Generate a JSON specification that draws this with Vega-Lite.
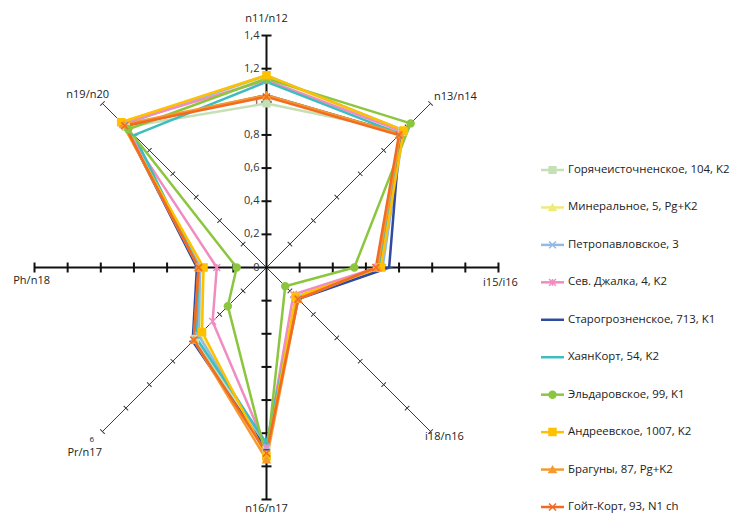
{
  "$schema": "https://vega.github.io/schema/vega-lite/v6.json",
  "width": 741,
  "height": 517,
  "autosize": "none",
  "padding": 0,
  "background": "white",
  "config": {"view": {"stroke": null}, "font": "Open Sans"},
  "resolve": {"scale": {"y": "independent"}},
  "datasets": {
    "series": [
      {"series": "Горячеисточненское, 104, K2", "k": 0, "value": 0.99},
      {"series": "Горячеисточненское, 104, K2", "k": 1, "value": 1.16},
      {"series": "Горячеисточненское, 104, K2", "k": 2, "value": 0.67},
      {"series": "Горячеисточненское, 104, K2", "k": 3, "value": 0.26},
      {"series": "Горячеисточненское, 104, K2", "k": 4, "value": 1.10},
      {"series": "Горячеисточненское, 104, K2", "k": 5, "value": 0.61},
      {"series": "Горячеисточненское, 104, K2", "k": 6, "value": 0.40},
      {"series": "Горячеисточненское, 104, K2", "k": 7, "value": 1.20},
      {"series": "Минеральное, 5, Pg+K2", "k": 0, "value": 1.15},
      {"series": "Минеральное, 5, Pg+K2", "k": 1, "value": 1.17},
      {"series": "Минеральное, 5, Pg+K2", "k": 2, "value": 0.69},
      {"series": "Минеральное, 5, Pg+K2", "k": 3, "value": 0.25},
      {"series": "Минеральное, 5, Pg+K2", "k": 4, "value": 1.12},
      {"series": "Минеральное, 5, Pg+K2", "k": 5, "value": 0.57},
      {"series": "Минеральное, 5, Pg+K2", "k": 6, "value": 0.38},
      {"series": "Минеральное, 5, Pg+K2", "k": 7, "value": 1.24},
      {"series": "Петропавловское, 3", "k": 0, "value": 1.16},
      {"series": "Петропавловское, 3", "k": 1, "value": 1.17},
      {"series": "Петропавловское, 3", "k": 2, "value": 0.70},
      {"series": "Петропавловское, 3", "k": 3, "value": 0.26},
      {"series": "Петропавловское, 3", "k": 4, "value": 1.08},
      {"series": "Петропавловское, 3", "k": 5, "value": 0.58},
      {"series": "Петропавловское, 3", "k": 6, "value": 0.40},
      {"series": "Петропавловское, 3", "k": 7, "value": 1.22},
      {"series": "Сев. Джалка, 4, K2", "k": 0, "value": 1.13},
      {"series": "Сев. Джалка, 4, K2", "k": 1, "value": 1.16},
      {"series": "Сев. Джалка, 4, K2", "k": 2, "value": 0.67},
      {"series": "Сев. Джалка, 4, K2", "k": 3, "value": 0.23},
      {"series": "Сев. Джалка, 4, K2", "k": 4, "value": 1.09},
      {"series": "Сев. Джалка, 4, K2", "k": 5, "value": 0.46},
      {"series": "Сев. Джалка, 4, K2", "k": 6, "value": 0.30},
      {"series": "Сев. Джалка, 4, K2", "k": 7, "value": 1.23},
      {"series": "Старогрозненское, 713, K1", "k": 0, "value": 1.04},
      {"series": "Старогрозненское, 713, K1", "k": 1, "value": 1.14},
      {"series": "Старогрозненское, 713, K1", "k": 2, "value": 0.74},
      {"series": "Старогрозненское, 713, K1", "k": 3, "value": 0.27},
      {"series": "Старогрозненское, 713, K1", "k": 4, "value": 1.10},
      {"series": "Старогрозненское, 713, K1", "k": 5, "value": 0.63},
      {"series": "Старогрозненское, 713, K1", "k": 6, "value": 0.42},
      {"series": "Старогрозненское, 713, K1", "k": 7, "value": 1.21},
      {"series": "ХаянКорт, 54, K2", "k": 0, "value": 1.12},
      {"series": "ХаянКорт, 54, K2", "k": 1, "value": 1.14},
      {"series": "ХаянКорт, 54, K2", "k": 2, "value": 0.68},
      {"series": "ХаянКорт, 54, K2", "k": 3, "value": 0.26},
      {"series": "ХаянКорт, 54, K2", "k": 4, "value": 1.06},
      {"series": "ХаянКорт, 54, K2", "k": 5, "value": 0.60},
      {"series": "ХаянКорт, 54, K2", "k": 6, "value": 0.41},
      {"series": "ХаянКорт, 54, K2", "k": 7, "value": 1.13},
      {"series": "Эльдаровское, 99, K1", "k": 0, "value": 1.14},
      {"series": "Эльдаровское, 99, K1", "k": 1, "value": 1.23},
      {"series": "Эльдаровское, 99, K1", "k": 2, "value": 0.53},
      {"series": "Эльдаровское, 99, K1", "k": 3, "value": 0.16},
      {"series": "Эльдаровское, 99, K1", "k": 4, "value": 1.15},
      {"series": "Эльдаровское, 99, K1", "k": 5, "value": 0.33},
      {"series": "Эльдаровское, 99, K1", "k": 6, "value": 0.18},
      {"series": "Эльдаровское, 99, K1", "k": 7, "value": 1.18},
      {"series": "Андреевское, 1007, K2", "k": 0, "value": 1.16},
      {"series": "Андреевское, 1007, K2", "k": 1, "value": 1.17},
      {"series": "Андреевское, 1007, K2", "k": 2, "value": 0.69},
      {"series": "Андреевское, 1007, K2", "k": 3, "value": 0.25},
      {"series": "Андреевское, 1007, K2", "k": 4, "value": 1.14},
      {"series": "Андреевское, 1007, K2", "k": 5, "value": 0.55},
      {"series": "Андреевское, 1007, K2", "k": 6, "value": 0.38},
      {"series": "Андреевское, 1007, K2", "k": 7, "value": 1.24},
      {"series": "Брагуны, 87, Pg+K2", "k": 0, "value": 1.04},
      {"series": "Брагуны, 87, Pg+K2", "k": 1, "value": 1.14},
      {"series": "Брагуны, 87, Pg+K2", "k": 2, "value": 0.67},
      {"series": "Брагуны, 87, Pg+K2", "k": 3, "value": 0.27},
      {"series": "Брагуны, 87, Pg+K2", "k": 4, "value": 1.16},
      {"series": "Брагуны, 87, Pg+K2", "k": 5, "value": 0.62},
      {"series": "Брагуны, 87, Pg+K2", "k": 6, "value": 0.41},
      {"series": "Брагуны, 87, Pg+K2", "k": 7, "value": 1.22},
      {"series": "Гойт-Корт, 93, N1 ch", "k": 0, "value": 1.03},
      {"series": "Гойт-Корт, 93, N1 ch", "k": 1, "value": 1.13},
      {"series": "Гойт-Корт, 93, N1 ch", "k": 2, "value": 0.66},
      {"series": "Гойт-Корт, 93, N1 ch", "k": 3, "value": 0.27},
      {"series": "Гойт-Корт, 93, N1 ch", "k": 4, "value": 1.12},
      {"series": "Гойт-Корт, 93, N1 ch", "k": 5, "value": 0.62},
      {"series": "Гойт-Корт, 93, N1 ch", "k": 6, "value": 0.41},
      {"series": "Гойт-Корт, 93, N1 ch", "k": 7, "value": 1.21}
    ],
    "axes": [
      {"k": 0, "levels": [0.2, 0.4, 0.6, 0.8, 1, 1.2, 1.4]},
      {"k": 1, "levels": [0.2, 0.4, 0.6, 0.8, 1, 1.2, 1.4]},
      {"k": 2, "levels": [0.2, 0.4, 0.6, 0.8, 1, 1.2, 1.4]},
      {"k": 3, "levels": [0.2, 0.4, 0.6, 0.8, 1, 1.2, 1.4]},
      {"k": 4, "levels": [0.2, 0.4, 0.6, 0.8, 1, 1.2, 1.4]},
      {"k": 5, "levels": [0.2, 0.4, 0.6, 0.8, 1, 1.2, 1.4]},
      {"k": 6, "levels": [0.2, 0.4, 0.6, 0.8, 1, 1.2, 1.4]},
      {"k": 7, "levels": [0.2, 0.4, 0.6, 0.8, 1, 1.2, 1.4]}
    ],
    "vlabels": [
      {"v": 0, "lab": "0"},
      {"v": 0.2, "lab": "0,2"},
      {"v": 0.4, "lab": "0,4"},
      {"v": 0.6, "lab": "0,6"},
      {"v": 0.8, "lab": "0,8"},
      {"v": 1, "lab": "1"},
      {"v": 1.2, "lab": "1,2"},
      {"v": 1.4, "lab": "1,4"}
    ]
  },
  "layer": [
    {
      "data": {"name": "axes"},
      "transform": [
        {"filter": "datum.k % 2 == 1"},
        {"calculate": "0", "as": "o"},
        {"calculate": "1.4 * sin(datum.k * PI / 4)", "as": "ex"},
        {"calculate": "1.4 * cos(datum.k * PI / 4)", "as": "ey"}
      ],
      "mark": {"type": "rule", "color": "#3a3a3a", "strokeWidth": 1},
      "encoding": {
        "x": {"field": "o", "type": "quantitative", "scale": {"domain": [-1.6083, 2.8636], "nice": false, "zero": false}, "axis": null},
        "y": {"field": "o", "type": "quantitative", "scale": {"domain": [-1.5057, 1.6144], "nice": false, "zero": false}, "axis": null},
        "x2": {"field": "ex"},
        "y2": {"field": "ey"}
      }
    },
    {
      "data": {"name": "axes"},
      "transform": [
        {"filter": "datum.k % 2 == 0"},
        {"calculate": "0", "as": "o"},
        {"calculate": "1.4 * sin(datum.k * PI / 4)", "as": "ex"},
        {"calculate": "1.4 * cos(datum.k * PI / 4)", "as": "ey"}
      ],
      "mark": {"type": "rule", "color": "#111111", "strokeWidth": 2},
      "encoding": {
        "x": {"field": "o", "type": "quantitative", "scale": {"domain": [-1.6083, 2.8636], "nice": false, "zero": false}, "axis": null},
        "y": {"field": "o", "type": "quantitative", "scale": {"domain": [-1.5057, 1.6144], "nice": false, "zero": false}, "axis": null},
        "x2": {"field": "ex"},
        "y2": {"field": "ey"}
      }
    },
    {
      "data": {"name": "axes"},
      "transform": [
        {"filter": "datum.k % 2 == 1"},
        {"flatten": ["levels"], "as": ["level"]},
        {"calculate": "datum.level * sin(datum.k * PI / 4)", "as": "tx"},
        {"calculate": "datum.level * cos(datum.k * PI / 4)", "as": "ty"},
        {"calculate": "datum.k * 45", "as": "ang"}
      ],
      "mark": {"type": "point", "shape": "M-1,0L1,0", "color": "#3a3a3a", "strokeWidth": 1, "size": 40, "opacity": 1},
      "encoding": {
        "x": {"field": "tx", "type": "quantitative", "scale": {"domain": [-1.6083, 2.8636], "nice": false, "zero": false}, "axis": null},
        "y": {"field": "ty", "type": "quantitative", "scale": {"domain": [-1.5057, 1.6144], "nice": false, "zero": false}, "axis": null},
        "angle": {"field": "ang", "type": "quantitative", "scale": null}
      }
    },
    {
      "data": {"name": "axes"},
      "transform": [
        {"filter": "datum.k % 2 == 0"},
        {"flatten": ["levels"], "as": ["level"]},
        {"calculate": "datum.level * sin(datum.k * PI / 4)", "as": "tx"},
        {"calculate": "datum.level * cos(datum.k * PI / 4)", "as": "ty"},
        {"calculate": "datum.k * 45", "as": "ang"}
      ],
      "mark": {"type": "point", "shape": "M-1,0L1,0", "color": "#111111", "strokeWidth": 2, "size": 100, "opacity": 1},
      "encoding": {
        "x": {"field": "tx", "type": "quantitative", "scale": {"domain": [-1.6083, 2.8636], "nice": false, "zero": false}, "axis": null},
        "y": {"field": "ty", "type": "quantitative", "scale": {"domain": [-1.5057, 1.6144], "nice": false, "zero": false}, "axis": null},
        "angle": {"field": "ang", "type": "quantitative", "scale": null}
      }
    },
    {
      "data": {"name": "vlabels"},
      "mark": {"type": "text", "align": "right", "baseline": "middle", "dx": -7, "fontSize": 11, "color": "#333333"},
      "encoding": {
        "x": {"datum": 0, "type": "quantitative", "scale": {"domain": [-1.6083, 2.8636], "nice": false, "zero": false}, "axis": null},
        "y": {"field": "v", "type": "quantitative", "scale": {"domain": [-1.5057, 1.6144], "nice": false, "zero": false}, "axis": null},
        "text": {"field": "lab"}
      }
    },
    {
      "data": {"name": "series"},
      "transform": [
        {"calculate": "datum.value * sin(datum.k * PI / 4)", "as": "px"},
        {"calculate": "datum.value * cos(datum.k * PI / 4)", "as": "py"}
      ],
      "mark": {"type": "line", "interpolate": "linear-closed", "strokeWidth": 2.5, "strokeJoin": "round"},
      "encoding": {
        "x": {"field": "px", "type": "quantitative", "scale": {"domain": [-1.6083, 2.8636], "nice": false, "zero": false}, "axis": null},
        "y": {"field": "py", "type": "quantitative", "scale": {"domain": [-1.5057, 1.6144], "nice": false, "zero": false}, "axis": null},
        "order": {"field": "k", "type": "quantitative"},
        "color": {"field": "series", "type": "nominal", "legend": null,
          "scale": {
            "domain": ["Горячеисточненское, 104, K2", "Минеральное, 5, Pg+K2", "Петропавловское, 3", "Сев. Джалка, 4, K2", "Старогрозненское, 713, K1", "ХаянКорт, 54, K2", "Эльдаровское, 99, K1", "Андреевское, 1007, K2", "Брагуны, 87, Pg+K2", "Гойт-Корт, 93, N1 ch"],
            "range": ["#C5E0B4", "#F0EA78", "#8FBCE6", "#F08CC0", "#2F4A9E", "#3DBDBF", "#8CC63E", "#FFC000", "#F79A2E", "#F26B22"]
          }
        }
      }
    },
    {
      "data": {"name": "series"},
      "transform": [
        {"calculate": "datum.value * sin(datum.k * PI / 4)", "as": "px"},
        {"calculate": "datum.value * cos(datum.k * PI / 4)", "as": "py"}
      ],
      "mark": {"type": "point", "filled": true, "opacity": 1, "strokeWidth": 1.5},
      "encoding": {
        "x": {"field": "px", "type": "quantitative", "scale": {"domain": [-1.6083, 2.8636], "nice": false, "zero": false}, "axis": null},
        "y": {"field": "py", "type": "quantitative", "scale": {"domain": [-1.5057, 1.6144], "nice": false, "zero": false}, "axis": null},
        "color": {"field": "series", "type": "nominal", "legend": null,
          "scale": {
            "domain": ["Горячеисточненское, 104, K2", "Минеральное, 5, Pg+K2", "Петропавловское, 3", "Сев. Джалка, 4, K2", "Старогрозненское, 713, K1", "ХаянКорт, 54, K2", "Эльдаровское, 99, K1", "Андреевское, 1007, K2", "Брагуны, 87, Pg+K2", "Гойт-Корт, 93, N1 ch"],
            "range": ["#C5E0B4", "#F0EA78", "#8FBCE6", "#F08CC0", "#2F4A9E", "#3DBDBF", "#8CC63E", "#FFC000", "#F79A2E", "#F26B22"]
          }
        },
        "stroke": {"field": "series", "type": "nominal", "legend": null,
          "scale": {
            "domain": ["Горячеисточненское, 104, K2", "Минеральное, 5, Pg+K2", "Петропавловское, 3", "Сев. Джалка, 4, K2", "Старогрозненское, 713, K1", "ХаянКорт, 54, K2", "Эльдаровское, 99, K1", "Андреевское, 1007, K2", "Брагуны, 87, Pg+K2", "Гойт-Корт, 93, N1 ch"],
            "range": ["#C5E0B4", "#F0EA78", "#8FBCE6", "#F08CC0", "#2F4A9E", "#3DBDBF", "#8CC63E", "#FFC000", "#F79A2E", "#F26B22"]
          }
        },
        "shape": {"field": "series", "type": "nominal", "legend": null,
          "scale": {
            "domain": ["Горячеисточненское, 104, K2", "Минеральное, 5, Pg+K2", "Петропавловское, 3", "Сев. Джалка, 4, K2", "Старогрозненское, 713, K1", "ХаянКорт, 54, K2", "Эльдаровское, 99, K1", "Андреевское, 1007, K2", "Брагуны, 87, Pg+K2", "Гойт-Корт, 93, N1 ch"],
            "range": ["square", "triangle-up", "M-1,-1L1,1M-1,1L1,-1", "M-1,-1L1,1M-1,1L1,-1M0,-1L0,1", "M-1,0L1,0", "M-1,0L1,0", "circle", "square", "triangle-up", "M-1,-1L1,1M-1,1L1,-1"]
          }
        },
        "size": {"field": "series", "type": "nominal", "legend": null,
          "scale": {
            "domain": ["Горячеисточненское, 104, K2", "Минеральное, 5, Pg+K2", "Петропавловское, 3", "Сев. Джалка, 4, K2", "Старогрозненское, 713, K1", "ХаянКорт, 54, K2", "Эльдаровское, 99, K1", "Андреевское, 1007, K2", "Брагуны, 87, Pg+K2", "Гойт-Корт, 93, N1 ch"],
            "range": [45, 50, 40, 40, 30, 30, 45, 85, 65, 45]
          }
        }
      }
    },
    {
      "data": {"values": [{"t": "n11/n12"}]},
      "mark": {"type": "text", "align": "center", "baseline": "middle", "fontSize": 11, "color": "#222222"},
      "encoding": {
        "x": {"datum": 0, "type": "quantitative", "scale": {"domain": [-1.6083, 2.8636], "nice": false, "zero": false}, "axis": null},
        "y": {"datum": 1.5, "type": "quantitative", "scale": {"domain": [-1.5057, 1.6144], "nice": false, "zero": false}, "axis": null},
        "text": {"field": "t"}
      }
    },
    {
      "data": {"values": [{"t": "n13/n14"}]},
      "mark": {"type": "text", "align": "left", "baseline": "middle", "fontSize": 11, "color": "#222222"},
      "encoding": {
        "x": {"datum": 1.011, "type": "quantitative", "scale": {"domain": [-1.6083, 2.8636], "nice": false, "zero": false}, "axis": null},
        "y": {"datum": 1.029, "type": "quantitative", "scale": {"domain": [-1.5057, 1.6144], "nice": false, "zero": false}, "axis": null},
        "text": {"field": "t"}
      }
    },
    {
      "data": {"values": [{"t": "i15/i16"}]},
      "mark": {"type": "text", "align": "left", "baseline": "middle", "fontSize": 11, "color": "#222222"},
      "encoding": {
        "x": {"datum": 1.307, "type": "quantitative", "scale": {"domain": [-1.6083, 2.8636], "nice": false, "zero": false}, "axis": null},
        "y": {"datum": -0.094, "type": "quantitative", "scale": {"domain": [-1.5057, 1.6144], "nice": false, "zero": false}, "axis": null},
        "text": {"field": "t"}
      }
    },
    {
      "data": {"values": [{"t": "i18/n16"}]},
      "mark": {"type": "text", "align": "left", "baseline": "middle", "fontSize": 11, "color": "#222222"},
      "encoding": {
        "x": {"datum": 0.957, "type": "quantitative", "scale": {"domain": [-1.6083, 2.8636], "nice": false, "zero": false}, "axis": null},
        "y": {"datum": -1.023, "type": "quantitative", "scale": {"domain": [-1.5057, 1.6144], "nice": false, "zero": false}, "axis": null},
        "text": {"field": "t"}
      }
    },
    {
      "data": {"values": [{"t": "n16/n17"}]},
      "mark": {"type": "text", "align": "center", "baseline": "middle", "fontSize": 11, "color": "#222222"},
      "encoding": {
        "x": {"datum": 0, "type": "quantitative", "scale": {"domain": [-1.6083, 2.8636], "nice": false, "zero": false}, "axis": null},
        "y": {"datum": -1.458, "type": "quantitative", "scale": {"domain": [-1.5057, 1.6144], "nice": false, "zero": false}, "axis": null},
        "text": {"field": "t"}
      }
    },
    {
      "data": {"values": [{"t": "Pr/n17"}]},
      "mark": {"type": "text", "align": "right", "baseline": "middle", "fontSize": 11, "color": "#222222"},
      "encoding": {
        "x": {"datum": -0.993, "type": "quantitative", "scale": {"domain": [-1.6083, 2.8636], "nice": false, "zero": false}, "axis": null},
        "y": {"datum": -1.118, "type": "quantitative", "scale": {"domain": [-1.5057, 1.6144], "nice": false, "zero": false}, "axis": null},
        "text": {"field": "t"}
      }
    },
    {
      "data": {"values": [{"t": "6"}]},
      "mark": {"type": "text", "align": "center", "baseline": "middle", "fontSize": 8, "color": "#222222"},
      "encoding": {
        "x": {"datum": -1.055, "type": "quantitative", "scale": {"domain": [-1.6083, 2.8636], "nice": false, "zero": false}, "axis": null},
        "y": {"datum": -1.041, "type": "quantitative", "scale": {"domain": [-1.5057, 1.6144], "nice": false, "zero": false}, "axis": null},
        "text": {"field": "t"}
      }
    },
    {
      "data": {"values": [{"t": "Ph/n18"}]},
      "mark": {"type": "text", "align": "right", "baseline": "middle", "fontSize": 11, "color": "#222222"},
      "encoding": {
        "x": {"datum": -1.3066, "type": "quantitative", "scale": {"domain": [-1.6083, 2.8636], "nice": false, "zero": false}, "axis": null},
        "y": {"datum": -0.0815, "type": "quantitative", "scale": {"domain": [-1.5057, 1.6144], "nice": false, "zero": false}, "axis": null},
        "text": {"field": "t"}
      }
    },
    {
      "data": {"values": [{"t": "n19/n20"}]},
      "mark": {"type": "text", "align": "right", "baseline": "middle", "fontSize": 11, "color": "#222222"},
      "encoding": {
        "x": {"datum": -0.9505, "type": "quantitative", "scale": {"domain": [-1.6083, 2.8636], "nice": false, "zero": false}, "axis": null},
        "y": {"datum": 1.041, "type": "quantitative", "scale": {"domain": [-1.5057, 1.6144], "nice": false, "zero": false}, "axis": null},
        "text": {"field": "t"}
      }
    },
    {
      "data": {"name": "series"},
      "transform": [{"filter": "datum.k == 0"}],
      "mark": {"type": "point", "shape": "M-1,0L1,0", "size": 529, "strokeWidth": 2.5, "opacity": 1},
      "encoding": {
        "x": {"datum": 1.726, "type": "quantitative", "scale": {"domain": [-1.6083, 2.8636], "nice": false, "zero": false}, "axis": null},
        "y": {"field": "series", "type": "nominal", "sort": null, "axis": null,
          "scale": {"type": "point", "padding": 0, "domain": ["Горячеисточненское, 104, K2", "Минеральное, 5, Pg+K2", "Петропавловское, 3", "Сев. Джалка, 4, K2", "Старогрозненское, 713, K1", "ХаянКорт, 54, K2", "Эльдаровское, 99, K1", "Андреевское, 1007, K2", "Брагуны, 87, Pg+K2", "Гойт-Корт, 93, N1 ch"], "range": [170, 507]}
        },
        "color": {"field": "series", "type": "nominal", "legend": null,
          "scale": {
            "domain": ["Горячеисточненское, 104, K2", "Минеральное, 5, Pg+K2", "Петропавловское, 3", "Сев. Джалка, 4, K2", "Старогрозненское, 713, K1", "ХаянКорт, 54, K2", "Эльдаровское, 99, K1", "Андреевское, 1007, K2", "Брагуны, 87, Pg+K2", "Гойт-Корт, 93, N1 ch"],
            "range": ["#C5E0B4", "#F0EA78", "#8FBCE6", "#F08CC0", "#2F4A9E", "#3DBDBF", "#8CC63E", "#FFC000", "#F79A2E", "#F26B22"]
          }
        }
      }
    },
    {
      "data": {"name": "series"},
      "transform": [{"filter": "datum.k == 0"}],
      "mark": {"type": "point", "filled": true, "opacity": 1, "strokeWidth": 1.5},
      "encoding": {
        "x": {"datum": 1.726, "type": "quantitative", "scale": {"domain": [-1.6083, 2.8636], "nice": false, "zero": false}, "axis": null},
        "y": {"field": "series", "type": "nominal", "sort": null, "axis": null,
          "scale": {"type": "point", "padding": 0, "domain": ["Горячеисточненское, 104, K2", "Минеральное, 5, Pg+K2", "Петропавловское, 3", "Сев. Джалка, 4, K2", "Старогрозненское, 713, K1", "ХаянКорт, 54, K2", "Эльдаровское, 99, K1", "Андреевское, 1007, K2", "Брагуны, 87, Pg+K2", "Гойт-Корт, 93, N1 ch"], "range": [170, 507]}
        },
        "color": {"field": "series", "type": "nominal", "legend": null,
          "scale": {
            "domain": ["Горячеисточненское, 104, K2", "Минеральное, 5, Pg+K2", "Петропавловское, 3", "Сев. Джалка, 4, K2", "Старогрозненское, 713, K1", "ХаянКорт, 54, K2", "Эльдаровское, 99, K1", "Андреевское, 1007, K2", "Брагуны, 87, Pg+K2", "Гойт-Корт, 93, N1 ch"],
            "range": ["#C5E0B4", "#F0EA78", "#8FBCE6", "#F08CC0", "#2F4A9E", "#3DBDBF", "#8CC63E", "#FFC000", "#F79A2E", "#F26B22"]
          }
        },
        "stroke": {"field": "series", "type": "nominal", "legend": null,
          "scale": {
            "domain": ["Горячеисточненское, 104, K2", "Минеральное, 5, Pg+K2", "Петропавловское, 3", "Сев. Джалка, 4, K2", "Старогрозненское, 713, K1", "ХаянКорт, 54, K2", "Эльдаровское, 99, K1", "Андреевское, 1007, K2", "Брагуны, 87, Pg+K2", "Гойт-Корт, 93, N1 ch"],
            "range": ["#C5E0B4", "#F0EA78", "#8FBCE6", "#F08CC0", "#2F4A9E", "#3DBDBF", "#8CC63E", "#FFC000", "#F79A2E", "#F26B22"]
          }
        },
        "shape": {"field": "series", "type": "nominal", "legend": null,
          "scale": {
            "domain": ["Горячеисточненское, 104, K2", "Минеральное, 5, Pg+K2", "Петропавловское, 3", "Сев. Джалка, 4, K2", "Старогрозненское, 713, K1", "ХаянКорт, 54, K2", "Эльдаровское, 99, K1", "Андреевское, 1007, K2", "Брагуны, 87, Pg+K2", "Гойт-Корт, 93, N1 ch"],
            "range": ["square", "triangle-up", "M-1,-1L1,1M-1,1L1,-1", "M-1,-1L1,1M-1,1L1,-1M0,-1L0,1", "M-1,0L1,0", "M-1,0L1,0", "circle", "square", "triangle-up", "M-1,-1L1,1M-1,1L1,-1"]
          }
        },
        "size": {"field": "series", "type": "nominal", "legend": null,
          "scale": {
            "domain": ["Горячеисточненское, 104, K2", "Минеральное, 5, Pg+K2", "Петропавловское, 3", "Сев. Джалка, 4, K2", "Старогрозненское, 713, K1", "ХаянКорт, 54, K2", "Эльдаровское, 99, K1", "Андреевское, 1007, K2", "Брагуны, 87, Pg+K2", "Гойт-Корт, 93, N1 ch"],
            "range": [30, 30, 25, 25, 20, 20, 30, 45, 35, 30]
          }
        }
      }
    },
    {
      "data": {"name": "series"},
      "transform": [{"filter": "datum.k == 0"}],
      "mark": {"type": "text", "align": "left", "baseline": "middle", "fontSize": 11.4, "color": "#222222"},
      "encoding": {
        "x": {"datum": 1.8196, "type": "quantitative", "scale": {"domain": [-1.6083, 2.8636], "nice": false, "zero": false}, "axis": null},
        "y": {"field": "series", "type": "nominal", "sort": null, "axis": null,
          "scale": {"type": "point", "padding": 0, "domain": ["Горячеисточненское, 104, K2", "Минеральное, 5, Pg+K2", "Петропавловское, 3", "Сев. Джалка, 4, K2", "Старогрозненское, 713, K1", "ХаянКорт, 54, K2", "Эльдаровское, 99, K1", "Андреевское, 1007, K2", "Брагуны, 87, Pg+K2", "Гойт-Корт, 93, N1 ch"], "range": [170, 507]}
        },
        "text": {"field": "series"}
      }
    }
  ]
}
